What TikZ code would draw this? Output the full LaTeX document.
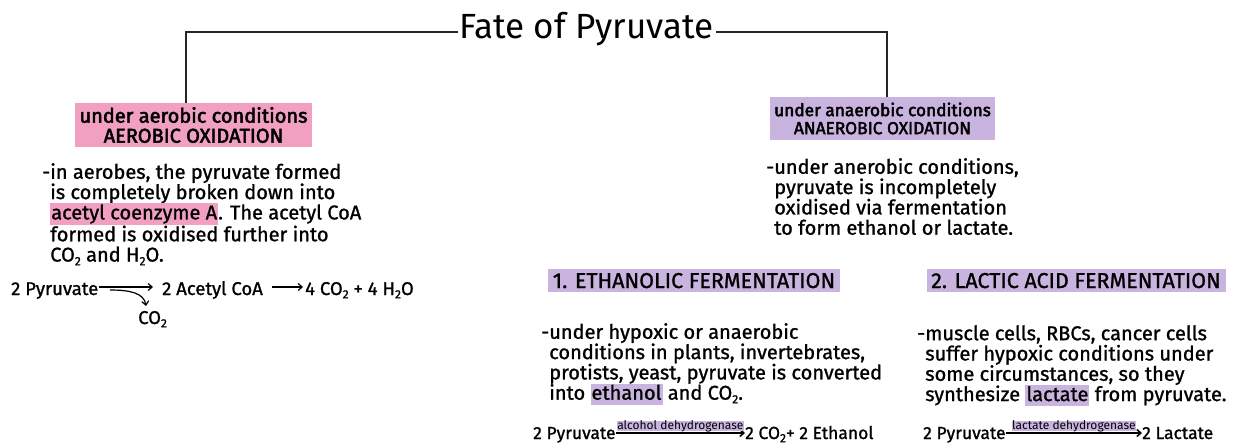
\documentclass[tikz,border=0pt]{standalone}
\usepackage{fontspec}
\setmainfont{Fira Sans}
\newfontfamily\medfont{Fira Sans}[FakeBold=1.1]
\newfontfamily\boldf{Fira Sans}[FakeBold=2.5]
\usetikzlibrary{arrows.meta}
\definecolor{pinkhl}{RGB}{241,160,194}
\definecolor{purphl}{RGB}{201,180,224}
\newcommand\sub[1]{\raisebox{-0.35ex}{\fontsize{12}{12}\selectfont #1}}
\newcommand\hlpink[1]{{\setlength{\fboxsep}{1pt}\colorbox{pinkhl}{\vphantom{Ayg}#1}}}
\newcommand\hlpurp[1]{{\setlength{\fboxsep}{1pt}\colorbox{purphl}{\vphantom{Ayg}#1}}}
\begin{document}
\begin{tikzpicture}[x=1pt,y=1pt,
  conn/.style={line width=1.8pt, draw=black!85},
  hdrbox/.style={inner sep=0pt, align=center},
  body/.style={anchor=north west, align=left, inner sep=0pt, font=\medfont\fontsize{20}{20.3}\selectfont},
  eq/.style={anchor=base west, inner sep=0pt, font=\medfont\fontsize{18.5}{20}\selectfont, text height=16pt, text depth=0pt},
  eqb/.style={eq, font=\medfont\fontsize{17.5}{20}\selectfont, text height=12pt, text depth=0pt},
  fermhdr/.style={fill=purphl, inner sep=0pt, minimum height=23.5pt, text height=15pt, text depth=0pt, font=\medfont\fontsize{21.5}{22}\selectfont},
  enz/.style={fill=purphl, inner sep=0.5pt, text height=8pt, text depth=1.5pt, font=\fontsize{12}{12}\selectfont},
  rarr/.style={line width=1.2pt, -{Straight Barb[length=4pt,width=7pt]}},
  barr/.style={line width=1.6pt, -{Straight Barb[length=4pt,width=7pt]}}
]
\useasboundingbox[fill=white] (0,0) rectangle (1238,-446);

% title
\node[inner sep=0pt, anchor=base, font=\fontsize{35}{35}\selectfont] (title) at (586.5,-39) {Fate of Pyruvate};
\coordinate (ly) at (0,-32);

% condition boxes
\node[hdrbox, fill=pinkhl, minimum width=237pt, minimum height=44pt, font=\boldf\fontsize{20}{20}\selectfont] (aer) at (193.5,-125)
  {under aerobic conditions\\AEROBIC OXIDATION};
\node[hdrbox, fill=purphl, minimum width=225pt, minimum height=43pt, font=\boldf\fontsize{17.3}{18}\selectfont] (anaer) at (882.5,-118.5)
  {under anaerobic conditions\\ANAEROBIC OXIDATION};

\draw[conn] ([xshift=-1pt]title.west |- ly) -| ([xshift=-7.5pt]aer.north);
\draw[conn] ([xshift=2pt]title.east |- ly) -| ([xshift=4.5pt]anaer.north);

% aerobic paragraph
\node[body] (aerp) at (42,-163) {-in aerobes, the pyruvate formed\\
\phantom{-}is completely broken down into\\
\phantom{-}\hlpink{acetyl coenzyme A}. The acetyl CoA\\
\phantom{-}formed is oxidised further into\\
\phantom{-}CO\sub{2} and H\sub{2}O.};

% aerobic equation
\node[eq] (pyr1) at (11,-295) {2 Pyruvate};
\node[eq] (acoa) at (162,-295) {2 Acetyl CoA};
\node[eq] (prod1) at (305,-295) {4 CO\sub{2} + 4 H\sub{2}O};
\node[eq] (co2a) at (138,-324) {CO\sub{2}};
\draw[rarr, shorten <=1pt, shorten >=9pt] (pyr1.east) -- (acoa.west);
\draw[rarr, shorten <=9pt, shorten >=2pt] (acoa.east) -- (prod1.west);
\coordinate (bs) at (110,-290);
\coordinate (be) at (146,-306);
\draw[line width=1.2pt, -{Straight Barb[length=4pt,width=7pt]}] (bs) .. controls (130,-290) and (144,-293) .. (be);

% anaerobic paragraph
\node[body] (anaerp) at (766,-158) {-under anerobic conditions,\\
\phantom{-}pyruvate is incompletely\\
\phantom{-}oxidised via fermentation\\
\phantom{-}to form ethanol or lactate.};

% fermentation headers
\node[fermhdr, minimum width=292pt] (eth) at (694,-280.5) {1. ETHANOLIC FERMENTATION};
\node[fermhdr, minimum width=299pt] (lac) at (1076,-280.5) {2. LACTIC ACID FERMENTATION};

% ethanol paragraph
\node[body] (ethp) at (541,-323) {-under hypoxic or anaerobic\\
\phantom{-}conditions in plants, invertebrates,\\
\phantom{-}protists, yeast, pyruvate is converted\\
\phantom{-}into \hlpurp{ethanol} and CO\sub{2}.};

% lactic paragraph
\node[body] (lacp) at (917,-325) {-muscle cells, RBCs, cancer cells\\
\phantom{-}suffer hypoxic conditions under\\
\phantom{-}some circumstances, so they\\
\phantom{-}synthesize \hlpurp{lactate} from pyruvate.};

% ethanol equation
\node[eqb] (pyr2) at (533,-439) {2 Pyruvate};
\node[eqb] (eprod) at (745,-439) {2 CO\sub{2}+ 2 Ethanol};
\draw[barr] (pyr2.east) -- (eprod.west) node[midway, above=1pt, enz] (adh) {alcohol dehydrogenase};

% lactate equation
\node[eqb] (pyr3) at (923,-439) {2 Pyruvate};
\node[eqb] (lprod) at (1142,-439) {2 Lactate};
\draw[barr] (pyr3.east) -- (lprod.west) node[midway, above=1pt, enz] (ldh) {lactate dehydrogenase};
\end{tikzpicture}
\end{document}
